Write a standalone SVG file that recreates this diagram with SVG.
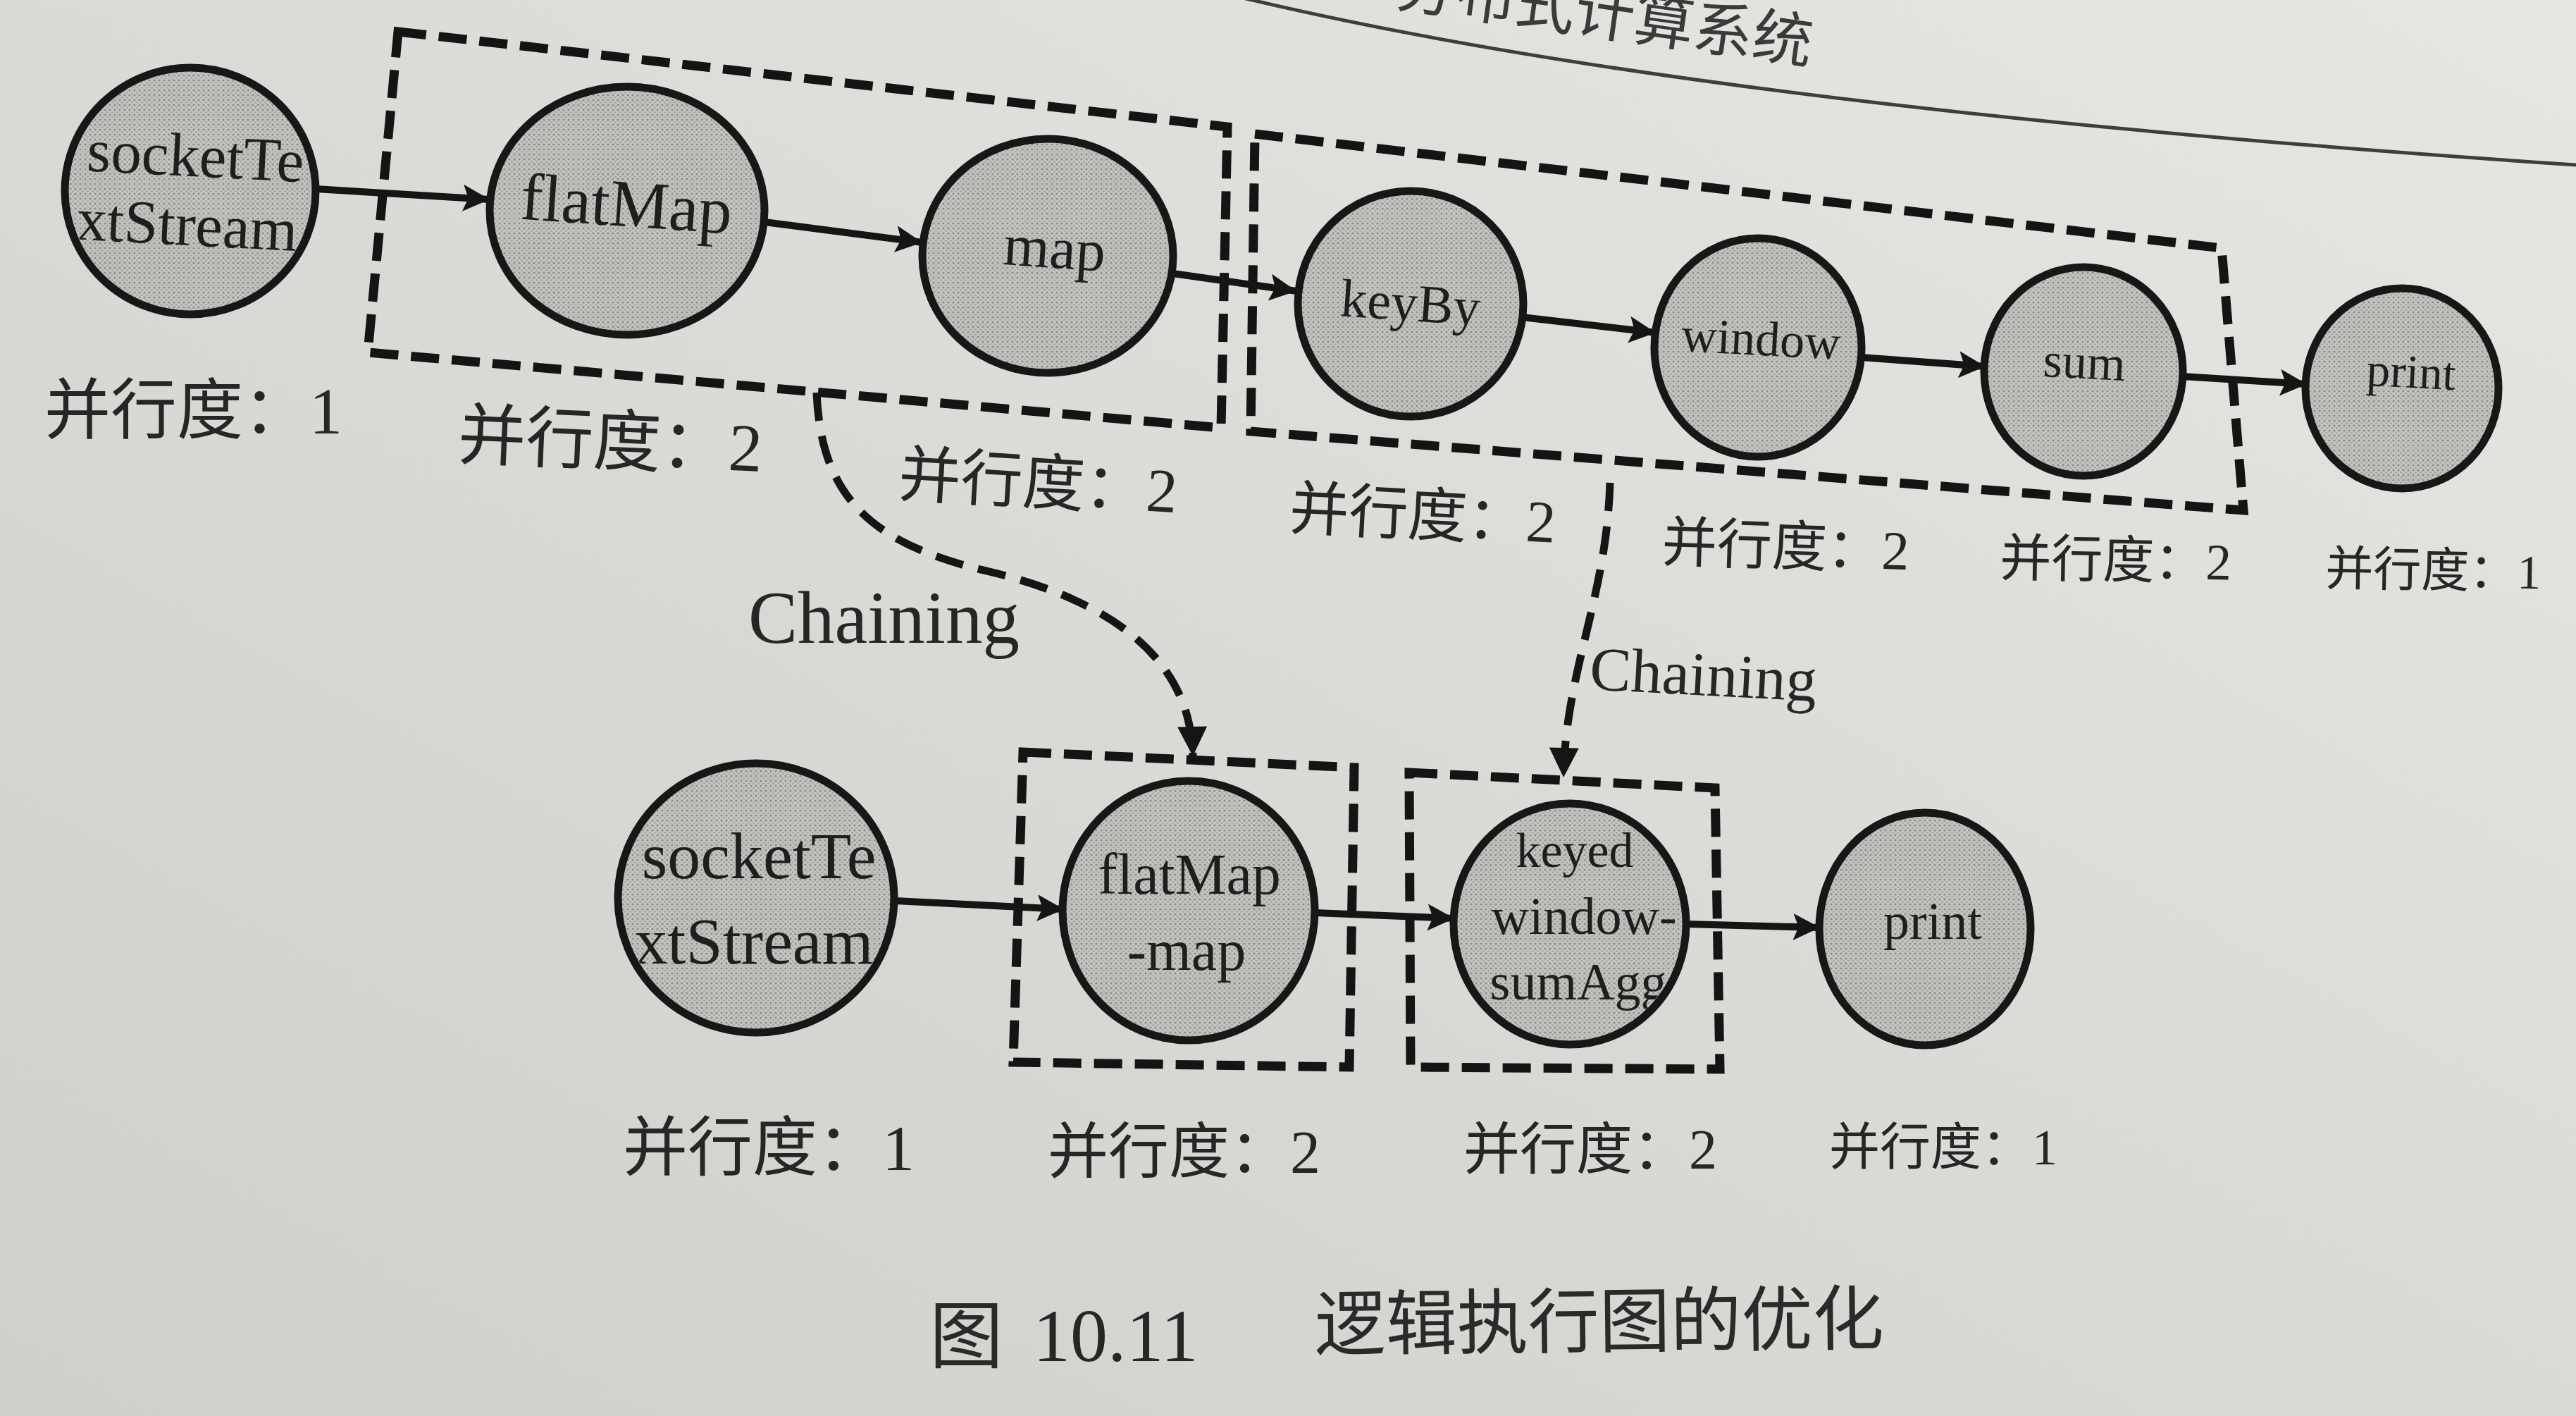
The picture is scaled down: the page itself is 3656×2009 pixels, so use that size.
<svg xmlns="http://www.w3.org/2000/svg" width="3656" height="2009" viewBox="0 0 3656 2009">
<defs>
<linearGradient id="paper" x1="0" y1="1" x2="1" y2="0">
<stop offset="0" stop-color="#cfcfcc"/>
<stop offset="0.5" stop-color="#dadad7"/>
<stop offset="1" stop-color="#e6e6e3"/>
</linearGradient>
<pattern id="dots" width="7" height="7" patternUnits="userSpaceOnUse">
<rect width="7" height="7" fill="#c2c2bf"/>
<circle cx="2" cy="2" r="1.6" fill="#8e8e8b"/>
<circle cx="5.5" cy="5.5" r="1.2" fill="#a0a09d"/>
</pattern>
<marker id="arr" viewBox="0 0 10 10" refX="10" refY="5" markerUnits="userSpaceOnUse" markerWidth="46" markerHeight="38" orient="auto">
<path d="M0,0 L10,5 L0,10 L2,5 z" fill="#151515"/>
</marker>
<marker id="arrD" viewBox="0 0 10 10" refX="10" refY="5" markerUnits="userSpaceOnUse" markerWidth="50" markerHeight="42" orient="auto">
<path d="M0,0 L10,5 L0,10 z" fill="#151515"/>
</marker>
<clipPath id="c1"><ellipse cx="270" cy="271" rx="172" ry="169"/></clipPath>
<clipPath id="c2"><ellipse cx="1073" cy="1274" rx="190" ry="185"/></clipPath>
<clipPath id="c3"><ellipse cx="2228" cy="1311" rx="159" ry="165"/></clipPath>
</defs>
<style>
.node{fill:url(#dots);stroke:#171717;stroke-width:11}
.nt{font-family:"Liberation Serif","Times New Roman",serif;fill:#1e1e1e;text-anchor:middle}
.lab{font-family:"Liberation Serif","Noto Sans CJK SC",serif;fill:#262626}
.cap{font-family:"Noto Sans CJK SC",sans-serif;fill:#2a2a2a}
.box{fill:none;stroke:#141414;stroke-width:13;stroke-dasharray:40 18}
.edge{fill:none;stroke:#151515;stroke-width:10;marker-end:url(#arr)}
.chain{fill:none;stroke:#151515;stroke-width:11;stroke-dasharray:40 22;marker-end:url(#arrD)}
</style>
<rect width="3656" height="2009" fill="url(#paper)"/>

<g id="header">
<path d="M1760,-4 Q2400,150 3656,234" fill="none" stroke="#3e3e3e" stroke-width="5"/>
<text x="1979" y="8" transform="rotate(8 1979 8)" font-size="85" font-family="Noto Sans CJK SC, sans-serif" fill="#3a3a3a">分布式计算系统</text>
</g>

<g id="groups">
<polygon id="box-top1" class="box" points="565,45 1742,180 1733,607 522,500"/>
<polygon id="box-top2" class="box" points="1781,190 3153,352 3184,724 1775,612"/>
<polygon id="box-bot1" class="box" points="1452,1067 1922,1089 1915,1514 1438,1507"/>
<polygon id="box-bot2" class="box" points="2000,1096 2434,1118 2441,1517 2002,1514"/>
</g>

<g id="connectors">
<line class="edge" x1="448" y1="268" x2="695" y2="283"/>
<line class="edge" x1="1085" y1="315" x2="1309" y2="344"/>
<line class="edge" x1="1665" y1="388" x2="1840" y2="413"/>
<line class="edge" x1="2160" y1="450" x2="2350" y2="472"/>
<line class="edge" x1="2642" y1="507" x2="2818" y2="520"/>
<line class="edge" x1="3097" y1="534" x2="3274" y2="545"/>
<line class="edge" x1="1270" y1="1278" x2="1510" y2="1290"/>
<line class="edge" x1="1866" y1="1295" x2="2064" y2="1303"/>
<line class="edge" x1="2392" y1="1311" x2="2583" y2="1316"/>
<path id="chain1" class="chain" d="M1159,557 C1165,700 1230,770 1400,810 S1690,930 1693,1073"/>
<path id="chain2" class="chain" d="M2285,685 C2280,850 2222,950 2219,1103"/>
<text class="lab" x="1062" y="912" font-size="105">Chaining</text>
<text class="lab" x="2255" y="978" font-size="88" transform="rotate(3 2255 978)">Chaining</text>
</g>

<g id="n-socket1">
<ellipse class="node" cx="270" cy="271" rx="178" ry="175"/>
<g clip-path="url(#c1)" transform="rotate(3 270 271)">
<text class="nt" x="275" y="250" font-size="87">socketTe</text>
<text class="nt" x="268" y="348" font-size="87">xtStream</text>
</g>
</g>
<g id="n-flatMap">
<ellipse class="node" cx="890" cy="299" rx="195" ry="176"/>
<text class="nt" x="887" y="321" font-size="95" transform="rotate(4 887 321)">flatMap</text>
</g>
<g id="n-map">
<ellipse class="node" cx="1487" cy="363" rx="178" ry="166"/>
<text class="nt" x="1495" y="380" font-size="84" transform="rotate(4 1495 380)">map</text>
</g>
<g id="n-keyBy">
<ellipse class="node" cx="2002" cy="431" rx="160" ry="160"/>
<text class="nt" x="2000" y="455" font-size="76" transform="rotate(4 2000 455)">keyBy</text>
</g>
<g id="n-window">
<ellipse class="node" cx="2495" cy="493" rx="147" ry="155"/>
<text class="nt" x="2498" y="504" font-size="70" transform="rotate(3 2498 504)">window</text>
</g>
<g id="n-sum">
<ellipse class="node" cx="2957" cy="527" rx="141" ry="148"/>
<text class="nt" x="2957" y="537" font-size="70" fill="#333" transform="rotate(3 2957 537)">sum</text>
</g>
<g id="n-print1">
<ellipse class="node" cx="3409" cy="551" rx="137" ry="142"/>
<text class="nt" x="3421" y="550" font-size="67" fill="#3a3a3a" transform="rotate(3 3421 550)">print</text>
</g>

<g id="n-socket2">
<ellipse class="node" cx="1073" cy="1274" rx="196" ry="191"/>
<g clip-path="url(#c2)">
<text class="nt" x="1077" y="1246" font-size="94">socketTe</text>
<text class="nt" x="1070" y="1367" font-size="94">xtStream</text>
</g>
</g>
<g id="n-flatMapMap">
<ellipse class="node" cx="1687" cy="1292" rx="179" ry="184"/>
<text class="nt" x="1688" y="1268" font-size="82">flatMap</text>
<text class="nt" x="1684" y="1376" font-size="82">-map</text>
</g>
<g id="n-keyedWindowSumAgg">
<ellipse class="node" cx="2228" cy="1311" rx="165" ry="171"/>
<g clip-path="url(#c3)">
<text class="nt" x="2235" y="1230" font-size="70">keyed</text>
<text class="nt" x="2248" y="1325" font-size="74">window-</text>
<text class="nt" x="2240" y="1418" font-size="74">sumAgg</text>
</g>
</g>
<g id="n-print2">
<ellipse class="node" cx="2732" cy="1318" rx="150" ry="165"/>
<text class="nt" x="2743" y="1332" font-size="74">print</text>
</g>

<g id="labels">
<text class="lab" x="63" y="615" font-size="94">并行度：1</text>
<text class="lab" x="649" y="650" font-size="96" transform="rotate(2.5 649 650)">并行度：2</text>
<text class="lab" x="1274" y="703" font-size="88" transform="rotate(3.5 1274 703)">并行度：2</text>
<text class="lab" x="1829" y="750" font-size="84" transform="rotate(3 1829 750)">并行度：2</text>
<text class="lab" x="2358" y="796" font-size="78" transform="rotate(2 2358 796)">并行度：2</text>
<text class="lab" x="2838" y="817" font-size="73" transform="rotate(1 2838 817)">并行度：2</text>
<text class="lab" x="3300" y="830" font-size="68" transform="rotate(1 3300 830)">并行度：1</text>
<text class="lab" x="884" y="1660" font-size="92">并行度：1</text>
<text class="lab" x="1487" y="1664" font-size="86">并行度：2</text>
<text class="lab" x="2077" y="1658" font-size="80">并行度：2</text>
<text class="lab" x="2596" y="1652" font-size="72">并行度：1</text>
</g>

<g id="caption">
<text class="cap" x="1319" y="1932" font-size="105">图</text>
<text class="lab" x="1466" y="1931" font-size="106">10.11</text>
<text class="cap" x="1866" y="1915" font-size="101" transform="rotate(-0.6 1866 1915)">逻辑执行图的优化</text>
</g>
</svg>
